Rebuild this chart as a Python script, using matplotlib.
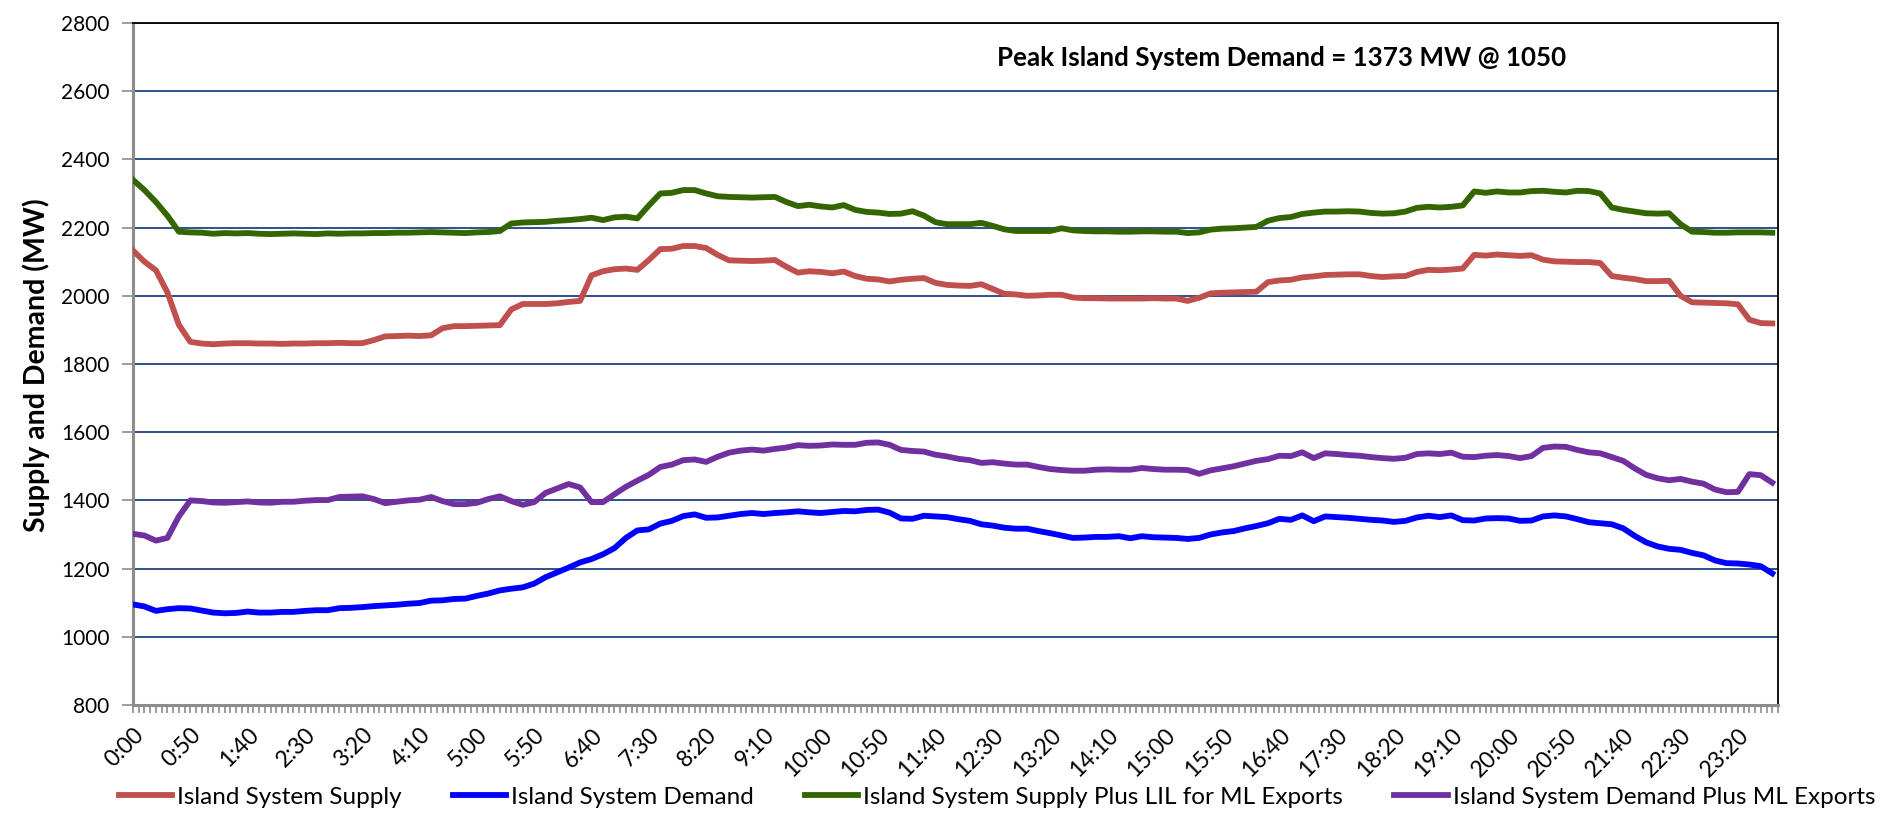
import matplotlib
matplotlib.use('Agg')
import matplotlib.pyplot as plt
import numpy as np
from matplotlib.ticker import MultipleLocator, FixedLocator

plt.rcParams['font.family'] = ['Lato', 'DejaVu Sans']

# minutes after midnight, read every 10 min from the chart
minutes = list(range(0, 1440, 10))

supply = [
    2133, 2100, 2075, 2010, 1915, 1865,
    1860, 1858, 1860, 1861, 1861, 1860,
    1860, 1859, 1860, 1860, 1861, 1861,
    1862, 1861, 1861, 1870, 1881, 1882,
    1883, 1882, 1884, 1905, 1911, 1911,
    1912, 1913, 1914, 1960, 1976, 1976,
    1976, 1978, 1982, 1985, 2060, 2072,
    2078, 2080, 2076, 2105, 2137, 2138,
    2146, 2146, 2140, 2120, 2104, 2103,
    2102, 2103, 2105, 2085, 2068, 2072,
    2070, 2066, 2071, 2058, 2050, 2048,
    2042, 2047, 2050, 2052, 2038, 2032,
    2030, 2029, 2034, 2020, 2006, 2004,
    2000, 2001, 2003, 2003, 1995, 1993,
    1993, 1992, 1992, 1992, 1992, 1993,
    1992, 1992, 1985, 1994, 2007, 2009,
    2010, 2011, 2012, 2040, 2045, 2047,
    2054, 2057, 2061, 2062, 2063, 2063,
    2058, 2055, 2057, 2058, 2070, 2076,
    2075, 2077, 2080, 2120, 2118, 2121,
    2119, 2117, 2119, 2106, 2101, 2100,
    2099, 2099, 2096, 2058, 2053, 2049,
    2043, 2043, 2044, 2000, 1981, 1980,
    1979, 1978, 1975, 1930, 1920, 1919,
]

demand = [
    1095, 1089, 1076, 1081, 1084, 1083,
    1077, 1071, 1069, 1070, 1074, 1071,
    1071, 1073, 1073, 1076, 1078, 1078,
    1084, 1085, 1087, 1090, 1092, 1094,
    1097, 1099, 1106, 1107, 1111, 1112,
    1120, 1127, 1136, 1141, 1145, 1156,
    1175, 1189, 1203, 1218, 1228, 1242,
    1260, 1290, 1312, 1315, 1332, 1340,
    1354, 1359, 1349, 1350, 1355, 1360,
    1363, 1360, 1363, 1365, 1368, 1365,
    1363, 1366, 1369, 1368, 1372, 1373,
    1364, 1347, 1346, 1355, 1353, 1351,
    1345, 1340, 1330, 1326, 1320, 1317,
    1317, 1310, 1304, 1297, 1290, 1291,
    1293, 1293, 1295, 1289, 1295, 1292,
    1291, 1290, 1287, 1290, 1300, 1306,
    1310, 1318, 1325, 1333, 1346, 1343,
    1356, 1339, 1353, 1351, 1349, 1346,
    1343, 1341, 1337, 1340, 1350, 1355,
    1351, 1356, 1342, 1341, 1347, 1348,
    1347, 1340, 1341, 1353, 1356, 1353,
    1345, 1336, 1333, 1330, 1318, 1296,
    1277, 1265, 1258, 1255, 1246, 1239,
    1224, 1216, 1215, 1212, 1207, 1186,
]

supply_lil = [
    2340, 2310, 2275, 2235, 2188, 2186,
    2185, 2182, 2184, 2183, 2184, 2182,
    2181, 2182, 2183, 2182, 2181, 2183,
    2182, 2183, 2183, 2184, 2184, 2185,
    2185, 2186, 2187, 2186, 2185, 2184,
    2186, 2187, 2190, 2212, 2215, 2216,
    2217, 2220, 2222, 2225, 2229, 2222,
    2230, 2232, 2227, 2265, 2300, 2302,
    2310, 2310, 2300, 2292, 2290, 2289,
    2288, 2289, 2290, 2275, 2263, 2267,
    2262, 2259, 2266, 2252, 2246, 2244,
    2240, 2241, 2248, 2235, 2216, 2210,
    2210, 2210, 2214, 2205, 2195, 2190,
    2190, 2190, 2190, 2198, 2192, 2190,
    2189, 2189, 2188, 2188, 2189, 2189,
    2188, 2188, 2184, 2186, 2194, 2197,
    2198, 2200, 2202, 2220, 2228, 2231,
    2240, 2244, 2247, 2247, 2248, 2247,
    2243, 2241, 2242, 2247, 2258, 2261,
    2259, 2261, 2265, 2306, 2302, 2306,
    2303, 2303, 2307, 2308, 2305, 2303,
    2308, 2307, 2300, 2259, 2252, 2247,
    2242, 2241, 2242, 2210, 2188, 2187,
    2185, 2185, 2186, 2186, 2186, 2185,
]

demand_ml = [
    1302, 1297, 1282, 1290, 1353, 1400,
    1398, 1394, 1393, 1395, 1397, 1394,
    1393, 1396, 1396, 1399, 1401, 1401,
    1410, 1411, 1412, 1404, 1392, 1396,
    1400, 1402, 1410, 1398, 1389, 1389,
    1393, 1404, 1412, 1398, 1387, 1395,
    1422, 1435, 1448, 1438, 1395, 1395,
    1418, 1440, 1458, 1475, 1498, 1505,
    1518, 1520, 1513, 1528, 1540, 1546,
    1549, 1546, 1551, 1555, 1562, 1560,
    1561, 1564, 1563, 1563, 1569, 1570,
    1563, 1548, 1545, 1543, 1534, 1529,
    1522, 1518, 1510, 1512, 1508, 1505,
    1505, 1498, 1492, 1489, 1487, 1487,
    1490, 1491, 1490, 1490, 1495, 1492,
    1490, 1490, 1489, 1478, 1488, 1494,
    1500, 1508, 1516, 1521, 1531, 1530,
    1541, 1524, 1538, 1536, 1533, 1531,
    1527, 1524, 1522, 1525, 1536, 1538,
    1536, 1540, 1528, 1527, 1531, 1533,
    1530, 1524, 1530, 1554, 1558, 1557,
    1548, 1541, 1538, 1527, 1516, 1494,
    1475, 1465, 1459, 1463, 1455, 1449,
    1432, 1424, 1425, 1477, 1474, 1452,
]

series_names = ['Island System Supply', 'Island System Demand',
                'Island System Supply Plus LIL for ML Exports',
                'Island System Demand Plus ML Exports']
series_colors = ['#C0504D', '#0000FF', '#336600', '#7030A0']

label_minutes = list(range(0, 1440, 50))
label_text = [f'{m // 60}:{m % 60:02d}' for m in label_minutes]

W, H = 1891, 817
fig = plt.figure(figsize=(W / 100, H / 100), dpi=100)
ax = fig.add_axes([133 / W, 1 - 705 / H, (1778 - 133) / W, (705 - 23) / H])

for vals, name, col in zip([supply, demand, supply_lil, demand_ml], series_names, series_colors):
    ax.plot(minutes, vals, color=col, lw=4.2, label=name, solid_joinstyle='round', zorder=3)

ax.set_xlim(0, 1435)
ax.set_ylim(800, 2800)
ax.set_yticks(range(800, 2801, 200))
ax.grid(axis='y', color='#2F5089', lw=1.4, zorder=1)

# x ticks: a tick every 5 minutes, labels every 50 minutes
ax.xaxis.set_minor_locator(MultipleLocator(5))
ax.xaxis.set_major_locator(FixedLocator(label_minutes))
ax.set_xticklabels(label_text, rotation=45, ha='right', rotation_mode='anchor')
ax.tick_params(axis='x', which='both', length=6, width=1.2, color='#8C8C8C', labelsize=16.5, pad=8)
ax.tick_params(axis='y', length=8, width=1.2, color='#8C8C8C', labelsize=15, pad=9)

for side in ['left', 'bottom']:
    ax.spines[side].set_color('#8C8C8C')
    ax.spines[side].set_linewidth(2.2)
for side in ['top', 'right']:
    ax.spines[side].set_color('black')
    ax.spines[side].set_linewidth(1.3)

fig.text(36 / W, 1 - 365 / H, 'Supply and Demand (MW)', rotation=90,
         ha='center', va='center', fontsize=20.5, fontweight='bold')

ax.text(1002, 2697, 'Peak Island System Demand = 1373 MW @ 1050',
        ha='center', va='center', fontsize=18.7, fontweight='bold')

fig.legend(loc='center', bbox_to_anchor=(997 / W, 1 - 797 / H), ncol=4, frameon=False,
           fontsize=17.5, handlelength=2.2, handletextpad=0.2, columnspacing=2.1,
           borderaxespad=0)

fig.savefig('out.png', dpi=100)
